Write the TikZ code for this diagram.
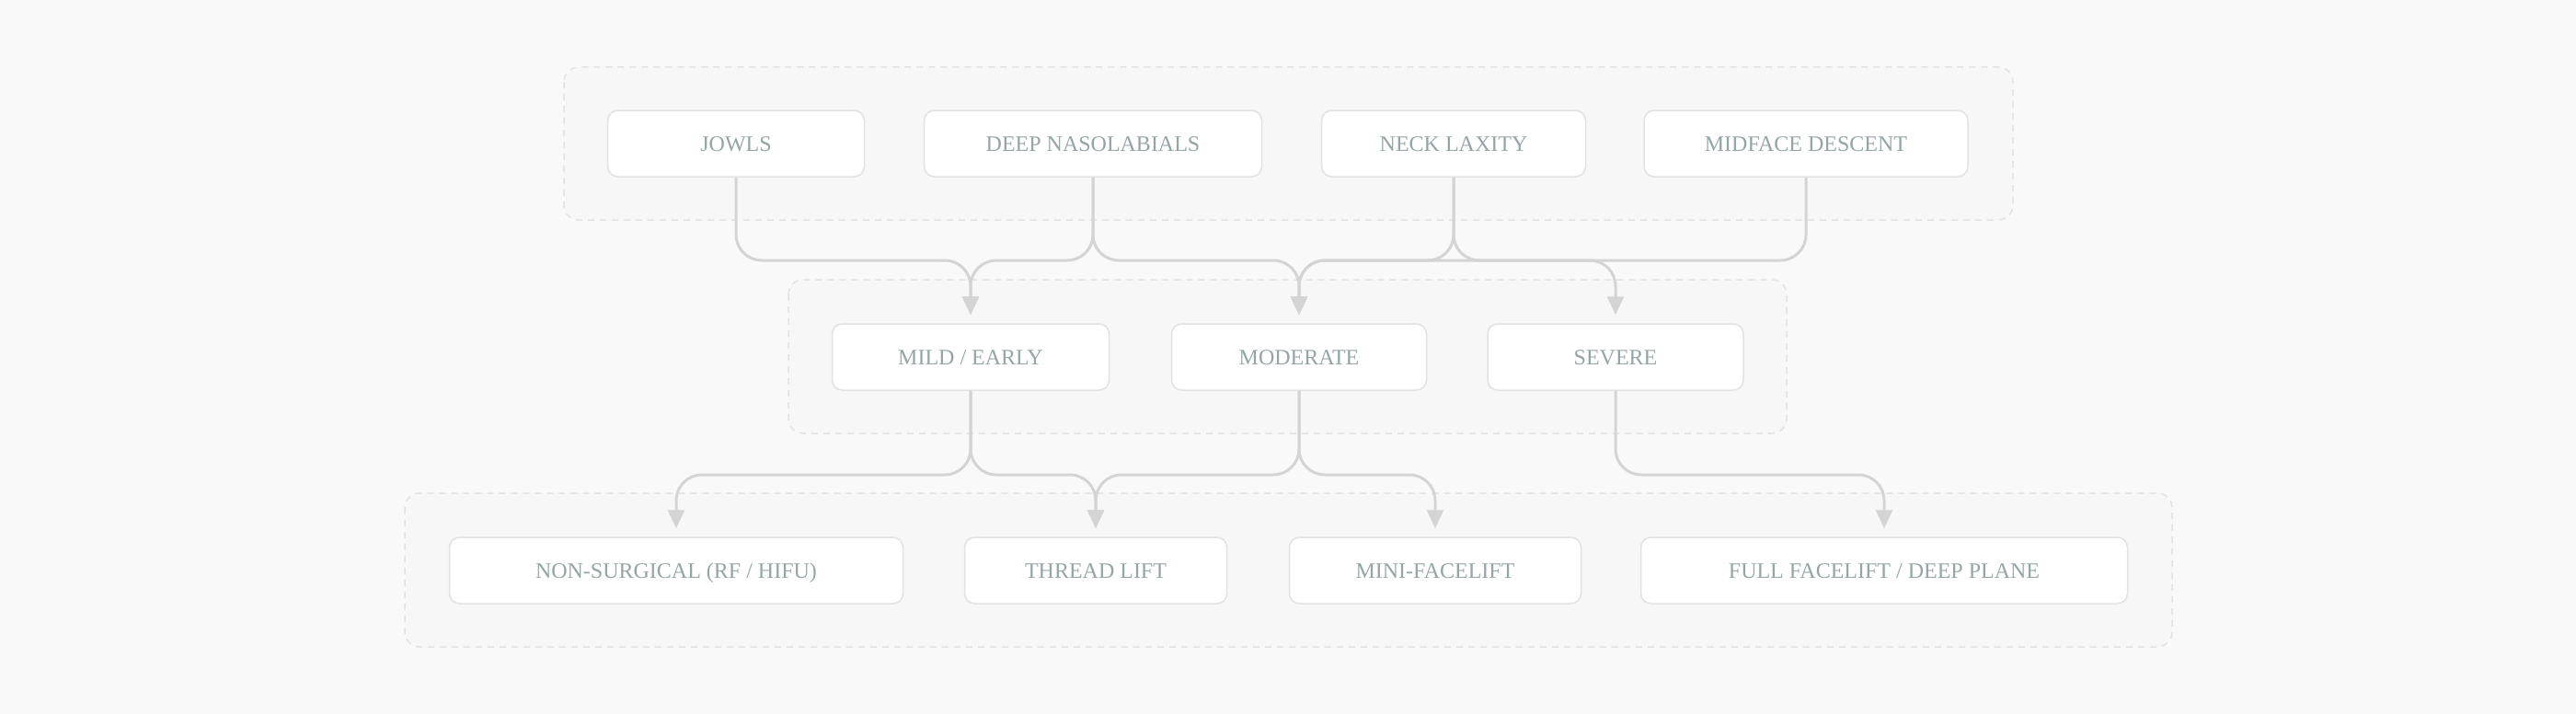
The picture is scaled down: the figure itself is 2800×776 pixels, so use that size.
\documentclass[tikz,border=0pt]{standalone}
\usepackage{fontspec}
\setmainfont{Liberation Serif}
\usetikzlibrary{arrows.meta}

\definecolor{bgcol}{HTML}{F9F9F9}
\definecolor{grpcol}{HTML}{F7F7F7}
\definecolor{grpline}{HTML}{E2E2E2}
\definecolor{boxline}{HTML}{E2E2E2}
\definecolor{txtcol}{HTML}{95A5A6}
\definecolor{flowcol}{HTML}{D4D4D4}

\tikzset{
  group/.style={draw=grpline,fill=grpcol,line width=1.5pt,dash pattern=on 7pt off 6pt,rounded corners=16pt},
  bus/.style={to path={-- (\tikztostart |- #1) -| (\tikztotarget) \tikztonodes}}
}

\begin{document}
\begin{tikzpicture}[x=1pt,y=-1pt]

      \fill[bgcol] (0,0) rectangle (2800,776);
      \useasboundingbox (0,0) rectangle (2800,776);

      % groups
      \draw[group] (613,73)  rectangle (2188,239);
      \draw[group] (857,304) rectangle (1942,471);
      \draw[group] (440,536) rectangle (2361,703);

      \begin{scope}[every node/.style={draw=boxline,fill=white,line width=1.5pt,rounded corners=11pt,
          minimum height=72pt,inner sep=0pt,text height=16pt,text depth=0pt,text=txtcol,
          font=\fontsize{24}{28}\selectfont}]
        \node[minimum width=279pt] (1)  at (800,156)  {JOWLS};
        \node[minimum width=367pt] (2)  at (1188,156) {DEEP NASOLABIALS};
        \node[minimum width=287pt] (3)  at (1580,156) {NECK LAXITY};
        \node[minimum width=352pt] (4)  at (1963,156) {MIDFACE DESCENT};
        \node[minimum width=301pt] (5)  at (1055,388) {MILD / EARLY};
        \node[minimum width=277pt] (6)  at (1412,388) {MODERATE};
        \node[minimum width=278pt] (7)  at (1756,388) {SEVERE};
        \node[minimum width=493pt] (8)  at (735,620)  {NON-SURGICAL (RF / HIFU)};
        \node[minimum width=285pt] (9)  at (1191,620) {THREAD LIFT};
        \node[minimum width=317pt] (10) at (1560,620) {MINI-FACELIFT};
        \node[minimum width=529pt] (11) at (2048,620) {FULL FACELIFT / DEEP PLANE};
      \end{scope}

      \coordinate (b1) at (0,283);
      \coordinate (b2) at (0,516);

      \begin{scope}[every edge/.style={draw=flowcol,line width=3pt,rounded corners=28pt,
          -{Triangle[length=20pt,width=18pt]},shorten >=9pt}]
        \path (1) edge[bus=b1] (5);
        \path (2) edge[bus=b1] (5);
        \path (2) edge[bus=b1] (6);
        \path (3) edge[bus=b1] (6);
        \path (3) edge[bus=b1] (7);
        \path (4) edge[bus=b1] (6);
        \path (5) edge[bus=b2] (8);
        \path (5) edge[bus=b2] (9);
        \path (6) edge[bus=b2] (9);
        \path (6) edge[bus=b2] (10);
        \path (7) edge[bus=b2] (11);
      \end{scope}

    \end{tikzpicture}
\end{document}
